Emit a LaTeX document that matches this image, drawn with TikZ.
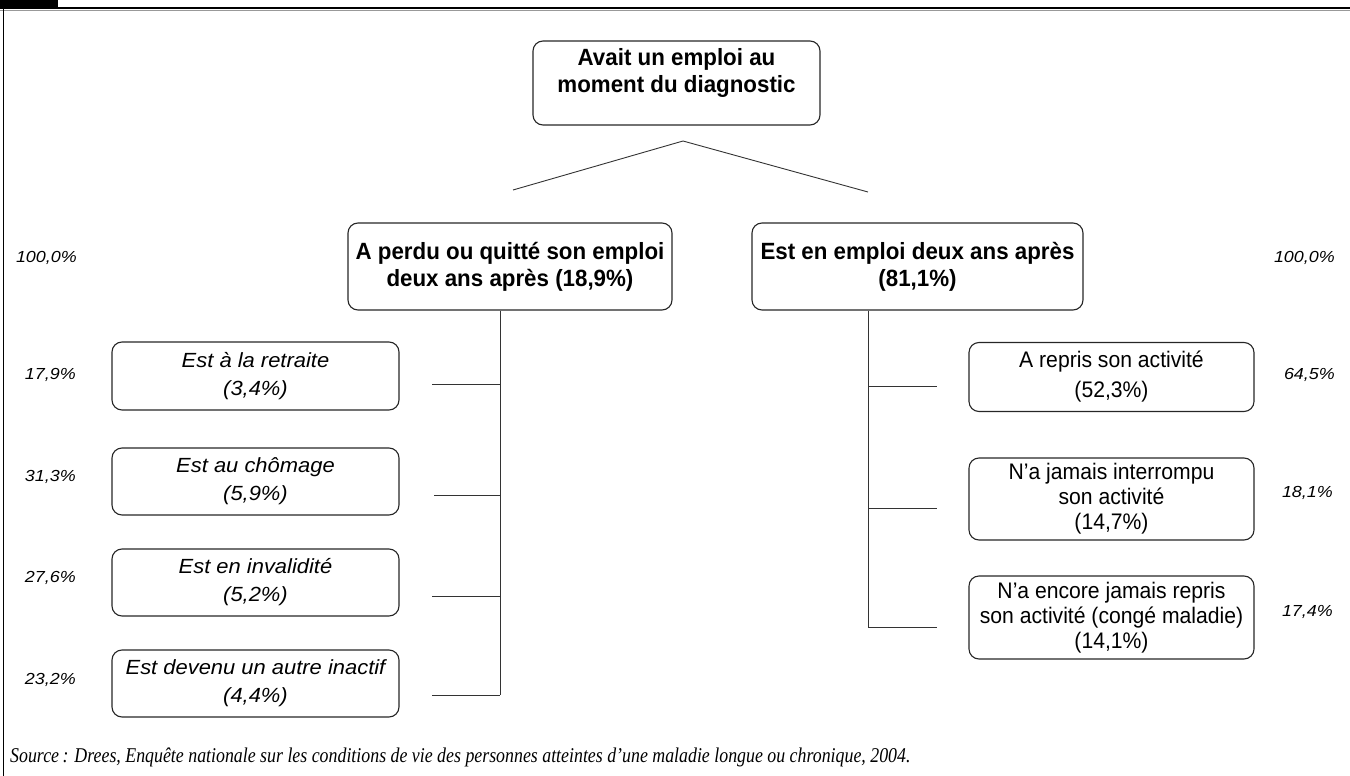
\documentclass[tikz,border=0pt]{standalone}
\usepackage{fontspec}
\setmainfont{Liberation Sans}
\newfontfamily\boldf{Liberation Sans}[FakeStretch=0.95]
\newfontfamily\itf{Liberation Sans}[FakeStretch=1.07]
\newfontfamily\pctf{Liberation Sans}[FakeStretch=1.12]
\newfontfamily\regf{Liberation Sans}[FakeStretch=0.94]
\newfontfamily\srcf{Liberation Serif}[FakeStretch=0.85]
\usetikzlibrary{calc}
\tikzset{
  box/.style={draw=black!85, line width=1.1pt, rounded corners=10pt, align=center, inner sep=0pt},
  bigbox/.style={box, font=\boldf\bfseries\fontsize{23.5}{27}\selectfont},
  itbox/.style={box, font=\itf\itshape\fontsize{20.5}{28}\selectfont, minimum width=287pt, minimum height=67pt},
  regbox/.style={box, font=\regf\fontsize{22.5}{25}\selectfont, minimum width=285pt},
  pct/.style={font=\pctf\itshape\fontsize{16}{18}\selectfont, inner sep=0pt},
  conn/.style={draw=black!80, line width=0.9pt},
}
\begin{document}
\begin{tikzpicture}[x=1pt, y=-1pt]
\useasboundingbox (0,0) rectangle (1350,776);
% frame
\fill[black] (0,0) rectangle (58,8);
\draw[line width=2pt] (0,8) -- (1350,8);
\draw[black!40, line width=0.8pt] (0,10) -- (1350,10);
\draw[line width=1pt] (3.5,8) -- (3.5,776);

% top
\node[bigbox, minimum width=287pt, minimum height=84pt, text depth=25pt] (top) at (676.5,83) {Avait un emploi au\\moment du diagnostic};
\node[bigbox, minimum width=324pt, minimum height=87pt] (lost) at (510,266.5) {A perdu ou quitté son emploi\\deux ans après (18,9\%)};
\node[bigbox, minimum width=331pt, minimum height=87pt] (emp) at (917.5,266.5) {Est en emploi deux ans après\\(81,1\%)};

\coordinate (peak) at (683,141);
\coordinate (lend) at (513,190);
\coordinate (rend) at (868,192);
\draw[conn] (lend) -- (peak) -- (rend);

% left boxes
\node[itbox, minimum height=68pt] (ret) at (255.5,376) {Est à la retraite\\(3,4\%)};
\node[itbox] (cho) at (255.5,481.5) {Est au chômage\\(5,9\%)};
\node[itbox] (inv) at (255.5,582.5) {Est en invalidité\\(5,2\%)};
\node[itbox] (ina) at (255.5,683.5) {Est devenu un autre inactif\\(4,4\%)};

% right boxes
\node[regbox, minimum height=69pt, font=\regf\fontsize{22.5}{30}\selectfont] (rep) at (1111.5,377) {A repris son activité\\(52,3\%)};
\node[regbox, minimum height=82pt] (jam) at (1111.5,499) {N’a jamais interrompu\\son activité\\(14,7\%)};
\node[regbox, minimum height=83pt] (enc) at (1111.5,617.5) {N’a encore jamais repris\\son activité (congé maladie)\\(14,1\%)};

% left tree
\coordinate (lt) at (500,695);
\coordinate (l1) at (432,384);
\coordinate (l2) at (434,495);
\coordinate (l3) at (432,596);
\coordinate (l4) at (432,695);
\draw[conn] (lost.south -| lt) -- (lt);
\draw[conn] (l1) -- (l1 -| lt);
\draw[conn] (l2) -- (l2 -| lt);
\draw[conn] (l3) -- (l3 -| lt);
\draw[conn] (l4) -- (lt);

% right tree
\coordinate (rt) at (868,627);
\coordinate (r1) at (937,386);
\coordinate (r2) at (937,508);
\coordinate (r3) at (937,627);
\draw[conn] (emp.south -| rt) -- (rt);
\draw[conn] (r1 -| rt) -- (r1);
\draw[conn] (r2 -| rt) -- (r2);
\draw[conn] (rt) -- (r3);

% percentages
\node[pct, anchor=east] (pl0) at (77,258) {100,0\%};
\node[pct, anchor=east] (pl1) at (76,375) {17,9\%};
\node[pct, anchor=east] (pl2) at (76,477) {31,3\%};
\node[pct, anchor=east] (pl3) at (76,578) {27,6\%};
\node[pct, anchor=east] (pl4) at (76,680) {23,2\%};
\node[pct, anchor=east] (pr0) at (1335,258) {100,0\%};
\node[pct, anchor=east] (pr1) at (1335,375) {64,5\%};
\node[pct, anchor=east] (pr2) at (1333,493) {18,1\%};
\node[pct, anchor=east] (pr3) at (1333,612) {17,4\%};

% source
\node[anchor=west, inner sep=0pt, font=\srcf\itshape\fontsize{21}{24}\selectfont] (src) at (10,757) {Source\,: Drees, Enquête nationale sur les conditions de vie des personnes atteintes d’une maladie longue ou chronique, 2004.};
\end{tikzpicture}
\end{document}
